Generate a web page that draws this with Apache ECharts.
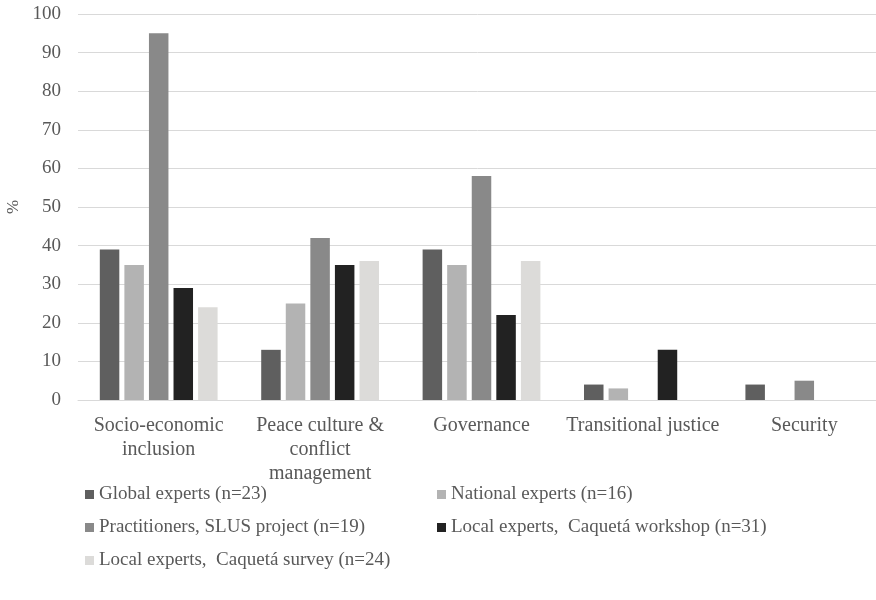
<!DOCTYPE html>
<html><head><meta charset="utf-8">
<script src="https://cdn.jsdelivr.net/npm/echarts@6/dist/echarts.min.js"></script>
<style>html,body{margin:0;padding:0;background:#fff}#c{width:876px;height:600px}</style>
</head><body><div id="c"></div>
<script>
const categories = ["Socio-economic\ninclusion", "Peace culture &\nconflict\nmanagement", "Governance", "Transitional justice", "Security"];
const globalExperts = [39, 13, 39, 4, 4];
const nationalExperts = [35, 25, 35, 3, 0];
const practitioners = [95, 42, 58, 0, 5];
const localWorkshop = [29, 35, 22, 13, 0];
const localSurvey = [24, 36, 36, 0, 0];
const seriesNames = ["Global experts (n=23)", "National experts (n=16)", "Practitioners, SLUS project (n=19)", "Local experts,  Caquetá workshop (n=31)", "Local experts,  Caquetá survey (n=24)"];
const yTicks = [0, 10, 20, 30, 40, 50, 60, 70, 80, 90, 100];

const colors = ["#5f5f5f", "#b3b3b3", "#898989", "#222222", "#dcdbd9"];
const FONT = "'Liberation Serif', 'DejaVu Serif', serif";
const TXT = '#595959';
const chart = echarts.init(document.getElementById('c'));
const dataSets = [globalExperts, nationalExperts, practitioners, localWorkshop, localSurvey];
const legendText = {fontFamily: FONT, fontSize: 19, color: TXT};
chart.setOption({
  animation: false,
  textStyle: {fontFamily: FONT},
  grid: {left: 78, top: 14, width: 807, height: 386, outerBoundsMode: 'none', containLabel: false},
  legend: [
    {left: 80, top: 480, orient: 'vertical', itemWidth: 9, itemHeight: 9, itemGap: 14, icon: 'rect',
     data: [seriesNames[0], seriesNames[2], seriesNames[4]], textStyle: legendText},
    {left: 432, top: 480, orient: 'vertical', itemWidth: 9, itemHeight: 9, itemGap: 14, icon: 'rect',
     data: [seriesNames[1], seriesNames[3]], textStyle: legendText}
  ],
  xAxis: {
    type: 'category', data: categories,
    axisLine: {lineStyle: {color: '#d9d9d9', width: 1}},
    axisTick: {show: false},
    axisLabel: {fontFamily: FONT, fontSize: 20, color: TXT, lineHeight: 24, margin: 14, interval: 0}
  },
  yAxis: {
    type: 'value', min: 0, max: 100, interval: 10,
    name: '%', nameLocation: 'middle', nameGap: 55, nameRotate: 90,
    nameTextStyle: {fontFamily: FONT, fontSize: 17, color: TXT},
    axisLine: {show: false}, axisTick: {show: false},
    axisLabel: {fontFamily: FONT, fontSize: 19, color: TXT, margin: 17,
      formatter: v => yTicks.includes(v) ? String(v) : ''},
    splitLine: {lineStyle: {color: '#d9d9d9', width: 1}}
  },
  series: dataSets.map((d, i) => ({
    name: seriesNames[i], type: 'bar', data: d,
    barWidth: 19.5, barGap: '26%',
    itemStyle: {color: colors[i]}
  }))
});
</script></body></html>
